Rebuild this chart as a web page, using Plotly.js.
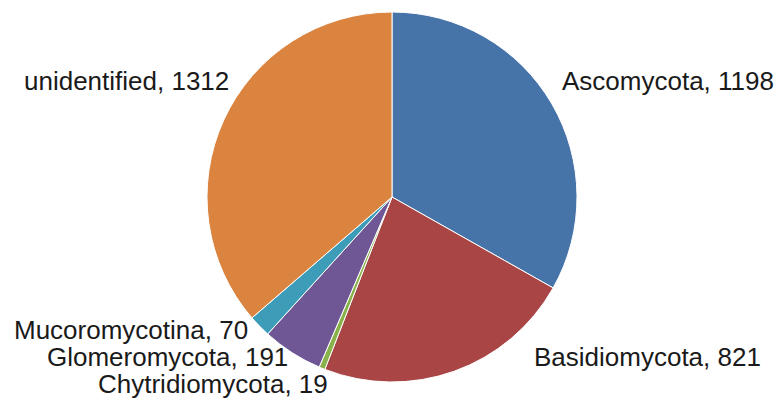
<!DOCTYPE html>
<html><head><meta charset="utf-8">
<script src="https://cdn.plot.ly/plotly-3.0.1.min.js"></script>
<style>html,body{margin:0;padding:0;background:#fff}#c{width:777px;height:417px}</style>
</head><body><div id="c"></div>
<script>
const labels = ["Ascomycota","Basidiomycota","Chytridiomycota","Glomeromycota","Mucoromycotina","unidentified"];
const values = [1198, 821, 19, 191, 70, 1312];
const colors = ["#4673a8","#a94545","#89b24a","#6e5794","#3d9cb8","#db8440"];

const W = 777, H = 417;
// label anchor spots in pixels (left x, middle y)
const spots = [
  [560, 81],
  [532, 357],
  [96, 384],
  [45, 357],
  [12, 330],
  [22, 81]
];
const annotations = labels.map((l,i)=>({
  text: l + ", " + values[i],
  xref:"paper", yref:"paper",
  x: spots[i][0]/W, y: 1 - spots[i][1]/H,
  xanchor: "left", yanchor:"middle",
  showarrow:false,
  font:{family:"Liberation Sans, Arial, sans-serif", size:26, color:"#1a1a1a"}
}));

Plotly.newPlot("c", [{
  type:"pie",
  labels: labels, values: values,
  sort:false, direction:"clockwise", rotation:0,
  marker:{colors: colors, line:{color:"#ffffff", width:1}},
  textinfo:"none", hoverinfo:"label+value",
  domain:{x:[207/W, 577/W], y:[1-382/H, 1-12/H]}
}], {
  width:W, height:H, showlegend:false,
  margin:{l:0,r:0,t:0,b:0},
  paper_bgcolor:"#ffffff",
  annotations: annotations
}, {displayModeBar:false, staticPlot:true});
</script></body></html>
